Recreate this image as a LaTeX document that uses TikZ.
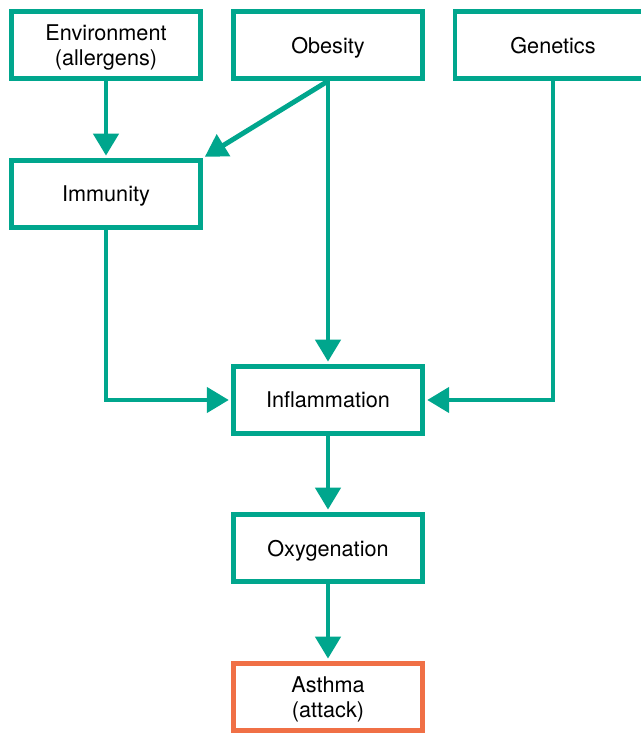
\documentclass[tikz,border=0pt]{standalone}
\usepackage{fontspec}
\setmainfont{TeX Gyre Heros}
\usetikzlibrary{arrows.meta,shadows}
\definecolor{tealline}{RGB}{0,166,141}
\definecolor{orangeline}{RGB}{240,112,70}

\tikzset{
  factor/.style={draw=tealline, line width=3.5pt, fill=white,
    minimum width=4.72cm, minimum height=1.68cm, align=center,
    text depth=0pt, font=\fontsize{15.4}{17.5}\selectfont,
    drop shadow={shadow xshift=1pt, shadow yshift=-1pt, opacity=0.15}},
  outcome/.style={factor, draw=orangeline},
  link/.style={draw=tealline, line width=3.5pt,
    -{Triangle[length=0.55cm, width=0.62cm]}, shorten >=1.6pt}
}

\begin{document}
\begin{tikzpicture}[x=0.025cm, y=-0.025cm]
        \useasboundingbox (0,0) rectangle (640,734);

        % top row
        \node[factor] (env) at (106,45) {Environment\\(allergens)};
        \node[factor] (obe) at (328,45) {Obesity};
        \node[factor, minimum width=4.9cm] (gen) at (553,45) {Genetics};

        \node[factor] (imm) at (106,194) {Immunity};
        \node[factor] (infl) at (328,400) {Inflammation};
        \node[factor] (oxy) at (328,548) {Oxygenation};
        \node[outcome] (ast) at (328,697) {Asthma\\(attack)};

        \draw[link] (env) -- (imm);
        \draw[link] (obe.south) -- (imm.north east);
        \draw[link] (obe) -- (infl);
        \draw[link] (imm.south) |- (infl.west);
        \draw[link] (gen.south) |- (infl.east);
        \draw[link] (infl) -- (oxy);
        \draw[link] (oxy) -- (ast);
    \end{tikzpicture}
\end{document}
